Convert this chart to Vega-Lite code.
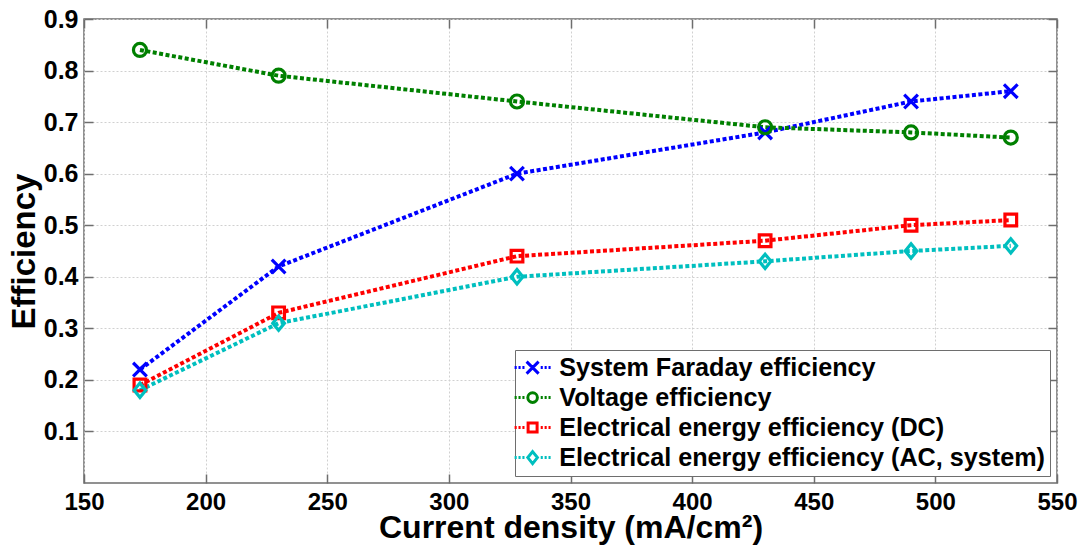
{
  "$schema": "https://vega.github.io/schema/vega-lite/v6.json",
  "width": 973,
  "height": 464,
  "autosize": "none",
  "padding": {"left": 84, "top": 19, "right": 26, "bottom": 65},
  "background": "white",
  "config": {
    "font": "Liberation Sans",
    "view": {"stroke": "#6e6e6e", "strokeWidth": 1.5},
    "axis": {
      "domain": false,
      "grid": true,
      "gridColor": "#d0d0d0",
      "gridDash": [2, 2],
      "gridWidth": 1,
      "tickColor": "#6e6e6e",
      "tickWidth": 1.5,
      "tickSize": -9,
      "labelFlush": false,
      "labelFont": "Liberation Sans",
      "labelFontWeight": "bold",
      "labelFontSize": 25,
      "labelColor": "black",
      "titleFont": "Liberation Sans",
      "titleFontWeight": "bold",
      "titleFontSize": 33,
      "titleColor": "black"
    }
  },
  "data": {
    "values": [
      {"x": 173, "value": 0.22, "series": "System Faraday efficiency"},
      {"x": 230, "value": 0.42, "series": "System Faraday efficiency"},
      {"x": 328, "value": 0.60, "series": "System Faraday efficiency"},
      {"x": 430, "value": 0.68, "series": "System Faraday efficiency"},
      {"x": 490, "value": 0.74, "series": "System Faraday efficiency"},
      {"x": 531, "value": 0.76, "series": "System Faraday efficiency"},
      {"x": 173, "value": 0.84, "series": "Voltage efficiency"},
      {"x": 230, "value": 0.79, "series": "Voltage efficiency"},
      {"x": 328, "value": 0.74, "series": "Voltage efficiency"},
      {"x": 430, "value": 0.69, "series": "Voltage efficiency"},
      {"x": 490, "value": 0.68, "series": "Voltage efficiency"},
      {"x": 531, "value": 0.67, "series": "Voltage efficiency"},
      {"x": 173, "value": 0.19, "series": "Electrical energy efficiency (DC)"},
      {"x": 230, "value": 0.33, "series": "Electrical energy efficiency (DC)"},
      {"x": 328, "value": 0.44, "series": "Electrical energy efficiency (DC)"},
      {"x": 430, "value": 0.47, "series": "Electrical energy efficiency (DC)"},
      {"x": 490, "value": 0.50, "series": "Electrical energy efficiency (DC)"},
      {"x": 531, "value": 0.51, "series": "Electrical energy efficiency (DC)"},
      {"x": 173, "value": 0.18, "series": "Electrical energy efficiency (AC, system)"},
      {"x": 230, "value": 0.31, "series": "Electrical energy efficiency (AC, system)"},
      {"x": 328, "value": 0.40, "series": "Electrical energy efficiency (AC, system)"},
      {"x": 430, "value": 0.43, "series": "Electrical energy efficiency (AC, system)"},
      {"x": 490, "value": 0.45, "series": "Electrical energy efficiency (AC, system)"},
      {"x": 531, "value": 0.46, "series": "Electrical energy efficiency (AC, system)"}
    ]
  },
  "layer": [
    {
      "mark": {"type": "line", "strokeWidth": 4, "strokeDash": [4, 2.5]},
      "encoding": {
        "x": {"field": "x", "type": "quantitative", "scale": {"domain": [150, 550], "nice": false, "zero": false},
              "axis": {"values": [150, 200, 250, 300, 350, 400, 450, 500, 550], "title": "Current density (mA/cm²)", "titleFontSize": 32, "labelFontSize": 24, "labelPadding": 16, "titlePadding": -2}},
        "y": {"field": "value", "type": "quantitative", "scale": {"domain": [0, 0.9], "nice": false},
              "axis": {"values": [0.1, 0.2, 0.3, 0.4, 0.5, 0.6, 0.7, 0.8, 0.9], "format": ".1f", "title": "Efficiency", "labelPadding": 15, "titlePadding": 2}},
        "color": {"field": "series", "type": "nominal",
                  "scale": {"domain": ["System Faraday efficiency", "Voltage efficiency", "Electrical energy efficiency (DC)", "Electrical energy efficiency (AC, system)"],
                            "range": ["#0000ff", "#008000", "#ff0000", "#00bfbf"]},
                  "legend": null},
        "detail": {"field": "series"}
      }
    },
    {
      "mark": {"type": "point", "filled": false, "strokeWidth": 3.2, "size": 169, "opacity": 1},
      "encoding": {
        "x": {"field": "x", "type": "quantitative", "axis": null},
        "y": {"field": "value", "type": "quantitative", "axis": null},
        "color": {"field": "series", "type": "nominal", "legend": null,
                  "scale": {"domain": ["System Faraday efficiency", "Voltage efficiency", "Electrical energy efficiency (DC)", "Electrical energy efficiency (AC, system)"],
                            "range": ["#0000ff", "#008000", "#ff0000", "#00bfbf"]}},
        "shape": {"field": "series", "type": "nominal",
                  "scale": {"domain": ["System Faraday efficiency", "Voltage efficiency", "Electrical energy efficiency (DC)", "Electrical energy efficiency (AC, system)"],
                            "range": ["M-1.05,-1.05L1.05,1.05M-1.05,1.05L1.05,-1.05", "M1,0A1,1,0,1,1,-1,0A1,1,0,1,1,1,0Z", "M-0.9,-0.9H0.9V0.9H-0.9Z", "M0,-1.1L0.9,0L0,1.1L-0.9,0Z"]},
                  "legend": null}
      }
    },
    {
      "mark": {"type": "point", "filled": false, "strokeWidth": 3, "size": 144, "opacity": 0},
      "encoding": {
        "x": {"field": "x", "type": "quantitative", "axis": {"orient": "top", "labels": false, "title": null, "grid": false, "values": [150, 200, 250, 300, 350, 400, 450, 500, 550]}},
        "y": {"field": "value", "type": "quantitative", "axis": {"orient": "right", "labels": false, "title": null, "grid": false, "values": [0.1, 0.2, 0.3, 0.4, 0.5, 0.6, 0.7, 0.8, 0.9]}},
        "color": {"field": "series", "type": "nominal",
                  "scale": {"domain": ["System Faraday efficiency", "Voltage efficiency", "Electrical energy efficiency (DC)", "Electrical energy efficiency (AC, system)"],
                            "range": ["#0000ff", "#008000", "#ff0000", "#00bfbf"]},
                  "legend": {
                    "title": null,
                    "orient": "bottom-right",
                    "offset": 7,
                    "fillColor": "white",
                    "strokeColor": "#6e6e6e",
                    "padding": 5,
                    "symbolSize": 144,
                    "symbolStrokeWidth": 3,
                    "symbolOpacity": 1,
                    "labelFont": "Liberation Sans",
                    "labelFontWeight": "bold",
                    "labelFontSize": 25.2,
                    "labelColor": "black",
                    "labelOffset": 14,
                    "labelLimit": 600,
                    "rowPadding": 4
                  }},
        "shape": {"field": "series", "type": "nominal",
                  "scale": {"domain": ["System Faraday efficiency", "Voltage efficiency", "Electrical energy efficiency (DC)", "Electrical energy efficiency (AC, system)"],
                            "range": [
                              "M-3,0H-2.65M-2.35,0H-2M-1.7,0H-1.35M1.35,0H1.7M2,0H2.35M2.65,0H3M-1,-1L1,1M-1,1L1,-1",
                              "M-3,0H-2.65M-2.35,0H-2M-1.7,0H-1.35M1.35,0H1.7M2,0H2.35M2.65,0H3M0.8,0A0.8,0.8,0,1,1,-0.8,0A0.8,0.8,0,1,1,0.8,0Z",
                              "M-3,0H-2.65M-2.35,0H-2M-1.7,0H-1.35M1.35,0H1.7M2,0H2.35M2.65,0H3M-0.75,-0.75H0.75V0.75H-0.75Z",
                              "M-3,0H-2.65M-2.35,0H-2M-1.7,0H-1.35M1.35,0H1.7M2,0H2.35M2.65,0H3M0,-1L0.8,0L0,1L-0.8,0Z"
                            ]},
                  "legend": {
                    "title": null,
                    "orient": "bottom-right",
                    "offset": 7,
                    "fillColor": "white",
                    "strokeColor": "#6e6e6e",
                    "padding": 5,
                    "symbolSize": 144,
                    "symbolStrokeWidth": 3,
                    "symbolOpacity": 1,
                    "labelFont": "Liberation Sans",
                    "labelFontWeight": "bold",
                    "labelFontSize": 25.2,
                    "labelColor": "black",
                    "labelOffset": 14,
                    "labelLimit": 600,
                    "rowPadding": 4
                  }}
      }
    }
  ],
  "resolve": {"scale": {"shape": "independent", "color": "independent"}, "legend": {"color": "independent", "shape": "independent"}, "axis": {"x": "independent", "y": "independent"}}
}
